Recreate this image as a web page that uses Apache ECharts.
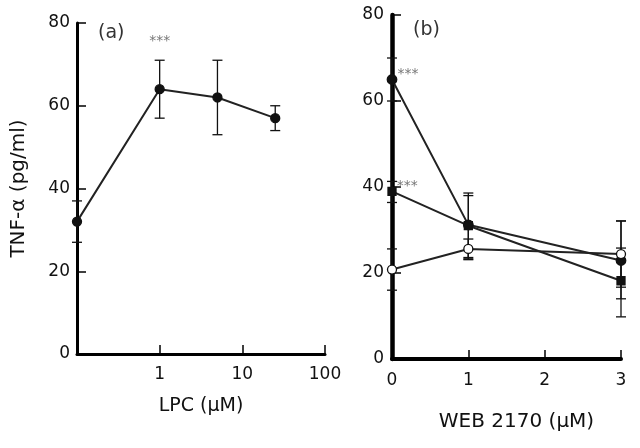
<!DOCTYPE html>
<html><head><meta charset="utf-8">
<script src="https://cdn.jsdelivr.net/npm/echarts@6/dist/echarts.min.js"></script>
<style>html,body{margin:0;padding:0;background:#fff}#c{width:640px;height:448px}</style>
</head><body><div id="c"></div>
<script>
// Panel (a): LPC dose response (log x)
const lpcX    = [0.1, 1, 5, 25];
const lpcMean = [32, 64, 62, 57];
const lpcLow  = [27, 57, 53, 54];
const lpcHigh = [37, 71, 71, 60];
const lpcSig  = ['', '***', '', ''];
const lpcTicks = [0.1, 1, 10, 100];

// Panel (b): WEB 2170
const webX = [0, 1, 3];
const filledMean = [65, 31.2, 22.9];
const filledLow  = [60, 23.6, 14.0];
const filledHigh = [70, 38.6, 32.1];
const filledSig  = ['***', '', ''];
const squareMean = [39, 31, 18.2];
const squareLow  = [36.4, 23.1, 9.8];
const squareHigh = [41.3, 38.0, 25.8];
const squareSig  = ['***', '', ''];
const openMean = [20.8, 25.6, 24.4];
const openLow  = [16.0, 23.3, 16.7];
const openHigh = [25.6, 27.9, 32.1];
const webTicks = [0, 1, 2, 3];
const yTicks = [0, 20, 40, 60, 80];

const FONT = 'DejaVu Sans';
const INK = '#111';

function pts(xs, ys, sig, sigLabel) {
  return xs.map((x, i) => {
    const d = { value: [x, ys[i]] };
    if (sig && sig[i]) d.label = Object.assign({ show: true, formatter: sig[i] }, sigLabel);
    return d;
  });
}
function errData(xs, lo, hi) { return xs.map((x, i) => [x, lo[i], hi[i]]); }
function errSeries(xi, yi, data) {
  return {
    type: 'custom', xAxisIndex: xi, yAxisIndex: yi, z: 1, silent: true,
    data: data,
    renderItem: function (params, api) {
      const x = api.value(0);
      const top = api.coord([x, api.value(2)]);
      const bot = api.coord([x, api.value(1)]);
      const w = 5;
      const st = { stroke: INK, lineWidth: 1.3 };
      return { type: 'group', children: [
        { type: 'line', shape: { x1: top[0], y1: top[1], x2: bot[0], y2: bot[1] }, style: st },
        { type: 'line', shape: { x1: top[0]-w, y1: top[1], x2: top[0]+w, y2: top[1] }, style: st },
        { type: 'line', shape: { x1: bot[0]-w, y1: bot[1], x2: bot[0]+w, y2: bot[1] }, style: st }
      ]};
    }
  };
}
function lineSeries(xi, yi, data, symbol, fill, size, z) {
  return {
    type: 'line', xAxisIndex: xi, yAxisIndex: yi, z: z || 3, data: data,
    symbol: symbol, symbolSize: size, showSymbol: true,
    lineStyle: { color: '#222', width: 2 },
    itemStyle: { color: fill, borderColor: INK, borderWidth: 1.3 },
    emphasis: { disabled: true }, animation: false
  };
}

const tickLabel = { color: INK, fontFamily: FONT, fontSize: 17 };
const starA = { position: 'top', distance: 36, color: '#777', fontFamily: FONT, fontSize: 14 };
const starB = { position: 'right', distance: 0, offset: [0, -5], color: '#777', fontFamily: FONT, fontSize: 14 };

const option = {
  animation: false,
  backgroundColor: '#fff',
  title: [
    { text: '(a)', left: 93, top: 19, textStyle: { fontFamily: FONT, fontSize: 19, fontWeight: 'normal', color: '#333' } },
    { text: '(b)', left: 408, top: 16, textStyle: { fontFamily: FONT, fontSize: 19, fontWeight: 'normal', color: '#333' } }
  ],
  grid: [
    { left: 77, top: 23, width: 248, height: 331 },
    { left: 392, top: 15, width: 229, height: 344 }
  ],
  xAxis: [
    { type: 'log', logBase: 10, gridIndex: 0, min: lpcTicks[0], max: lpcTicks[lpcTicks.length-1],
      name: 'LPC (μM)', nameLocation: 'middle', nameGap: 43,
      nameTextStyle: { color: INK, fontFamily: FONT, fontSize: 19 },
      axisLine: { lineStyle: { color: '#000', width: 3 } },
      axisTick: { inside: true, length: 9, lineStyle: { color: '#000', width: 1.5 } },
      axisLabel: Object.assign({ margin: 12, formatter: v => (v < 0.5 ? '' : String(v)) }, tickLabel),
      splitLine: { show: false } },
    { type: 'value', gridIndex: 1, min: webTicks[0], max: webTicks[webTicks.length-1], interval: 1,
      name: 'WEB 2170 (μM)', nameLocation: 'middle', nameGap: 53,
      nameTextStyle: { color: INK, fontFamily: FONT, fontSize: 20, padding: [0, 0, 0, 20] },
      axisLine: { lineStyle: { color: '#000', width: 4 } },
      axisTick: { inside: true, length: 9, lineStyle: { color: '#000', width: 1.5 } },
      axisLabel: Object.assign({ margin: 13 }, tickLabel),
      splitLine: { show: false } }
  ],
  yAxis: [
    { type: 'value', gridIndex: 0, min: yTicks[0], max: yTicks[yTicks.length-1], interval: 20,
      name: 'TNF-α (pg/ml)', nameLocation: 'middle', nameGap: 48,
      nameTextStyle: { color: INK, fontFamily: FONT, fontSize: 20 },
      axisLine: { lineStyle: { color: '#000', width: 3 } },
      axisTick: { inside: true, length: 9, lineStyle: { color: '#000', width: 1.5 } },
      axisLabel: Object.assign({ margin: 7 }, tickLabel),
      splitLine: { show: false } },
    { type: 'value', gridIndex: 1, min: yTicks[0], max: yTicks[yTicks.length-1], interval: 20,
      axisLine: { lineStyle: { color: '#000', width: 4.5 } },
      axisTick: { inside: true, length: 9, lineStyle: { color: '#000', width: 1.5 } },
      axisLabel: Object.assign({ margin: 8 }, tickLabel),
      splitLine: { show: false } }
  ],
  series: [
    errSeries(0, 0, errData(lpcX, lpcLow, lpcHigh)),
    lineSeries(0, 0, pts(lpcX, lpcMean, lpcSig, starA), 'circle', '#111', 9),
    errSeries(1, 1, errData(webX, filledLow, filledHigh)),
    errSeries(1, 1, errData(webX, squareLow, squareHigh)),
    errSeries(1, 1, errData(webX, openLow, openHigh)),
    lineSeries(1, 1, pts(webX, squareMean, squareSig, starB), 'rect', '#111', 8, 3),
    lineSeries(1, 1, pts(webX, filledMean, filledSig, starB), 'circle', '#111', 9.5, 4),
    lineSeries(1, 1, pts(webX, openMean, null, null), 'circle', '#fff', 9, 5)
  ]
};
const chart = echarts.init(document.getElementById('c'), null, { renderer: 'canvas' });
chart.setOption(option);
</script></body></html>
